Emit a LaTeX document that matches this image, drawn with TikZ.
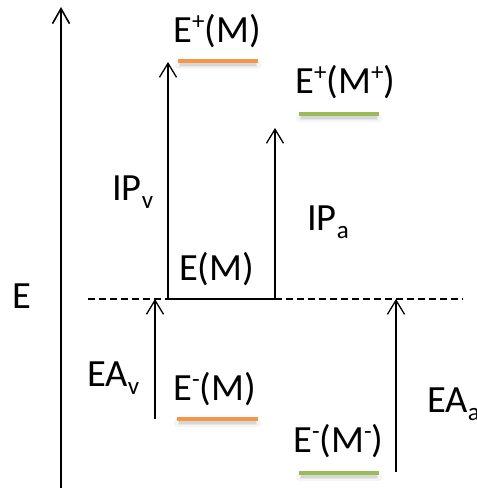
\documentclass[tikz,border=0pt]{standalone}
\usepackage{fontspec}
\setmainfont{Carlito}
\usetikzlibrary{arrows.meta}

% raised and lowered small indices, as in E^+ and IP_v
\newcommand{\upidx}[1]{\raisebox{0.33em}{\fontsize{25}{25}\selectfont #1}}
\newcommand{\loidx}[1]{\raisebox{-0.22em}{\fontsize{25}{25}\selectfont #1}}

\definecolor{levelorange}{HTML}{F79646}
\definecolor{levelgreen}{HTML}{9BBB59}

\tikzset{
  lbl/.style={anchor=base west, inner sep=0pt, font=\fontsize{38.5}{40}\selectfont},
  energyarrow/.style={line width=1.3pt, -{Straight Barb[length=14pt, width=17pt, line width=1.3pt]}},
  axisarrow/.style={line width=2pt, -{Straight Barb[length=15pt, width=17pt, line width=1.6pt]}},
  bar/.style={line width=4pt},
  reference/.style={line width=1.1pt, dash pattern=on 7pt off 4pt},
  % soft shadow under a level bar
  barshadow/.pic={
    \draw[line width=7pt, gray, opacity=0.08, line cap=round] (0,4) -- (#1,4);
    \draw[line width=5pt, gray, opacity=0.12] (1,3.5) -- (#1-1,3.5);
    \draw[line width=3pt, gray, opacity=0.15] (2,3.5) -- (#1-2,3.5);
  },
}

\begin{document}
\begin{tikzpicture}[x=1pt, y=-1pt]
  \useasboundingbox (0,0) rectangle (477,488);

  % energy axis
  \coordinate (axis-bottom) at (61,488);
  \coordinate (axis-top) at (61,7);
  \draw[axisarrow] (axis-bottom) -- (axis-top);
  \node[lbl] (elabel) at (12,308) {E};

  % reference level E(M)
  \coordinate (ref-left) at (88,299);
  \coordinate (ref-right) at (463,299);
  \draw[reference] (ref-left) -- (ref-right);
  \coordinate (em-left) at (168,299);
  \coordinate (em-right) at (275,299);
  \draw[line width=1.3pt] (em-left) -- (em-right);
  \node[lbl] (em) at (179,280) {E(M)};

  % cation levels
  \coordinate (cv-left) at (178,61);
  \coordinate (cv-right) at (258,61);
  \pic at (cv-left) {barshadow=80};
  \draw[bar, levelorange] (cv-left) -- (cv-right);
  \node[lbl] (cv) at (173,42) {E\upidx{+}(M)};

  \coordinate (ca-left) at (299,114);
  \coordinate (ca-right) at (379,114);
  \pic at (ca-left) {barshadow=80};
  \draw[bar, levelgreen] (ca-left) -- (ca-right);
  \node[lbl] (ca) at (295,93) {E\upidx{+}(M\upidx{+})};

  % anion levels
  \coordinate (av-left) at (177,419);
  \coordinate (av-right) at (258,419);
  \pic at (av-left) {barshadow=81};
  \draw[bar, levelorange] (av-left) -- (av-right);
  \node[lbl] (av) at (173,400) {E\upidx{-}(M)};

  \coordinate (aa-left) at (299,473);
  \coordinate (aa-right) at (379,473);
  \pic at (aa-left) {barshadow=80};
  \draw[bar, levelgreen] (aa-left) -- (aa-right);
  \node[lbl] (aa) at (293,452) {E\upidx{-}(M\upidx{-})};

  % ionization potentials
  \coordinate (ipv-top) at (168,62);
  \draw[energyarrow] (em-left) -- (ipv-top);
  \node[lbl] (ipv) at (112,200) {IP\loidx{v}};

  \coordinate (ipa-top) at (275,128);
  \draw[energyarrow] (em-right) -- (ipa-top);
  \node[lbl] (ipa) at (307,230) {IP\loidx{a}};

  % electron affinities
  \coordinate (eav-bottom) at (155,419);
  \coordinate (eav-top) at (155,299);
  \draw[energyarrow] (eav-bottom) -- (eav-top);
  \node[lbl] (eav) at (87,386) {EA\loidx{v}};

  \coordinate (eaa-bottom) at (396,472);
  \coordinate (eaa-top) at (396,299);
  \draw[energyarrow] (eaa-bottom) -- (eaa-top);
  \node[lbl] (eaa) at (427,412) {EA\loidx{a}};
\end{tikzpicture}
\end{document}
